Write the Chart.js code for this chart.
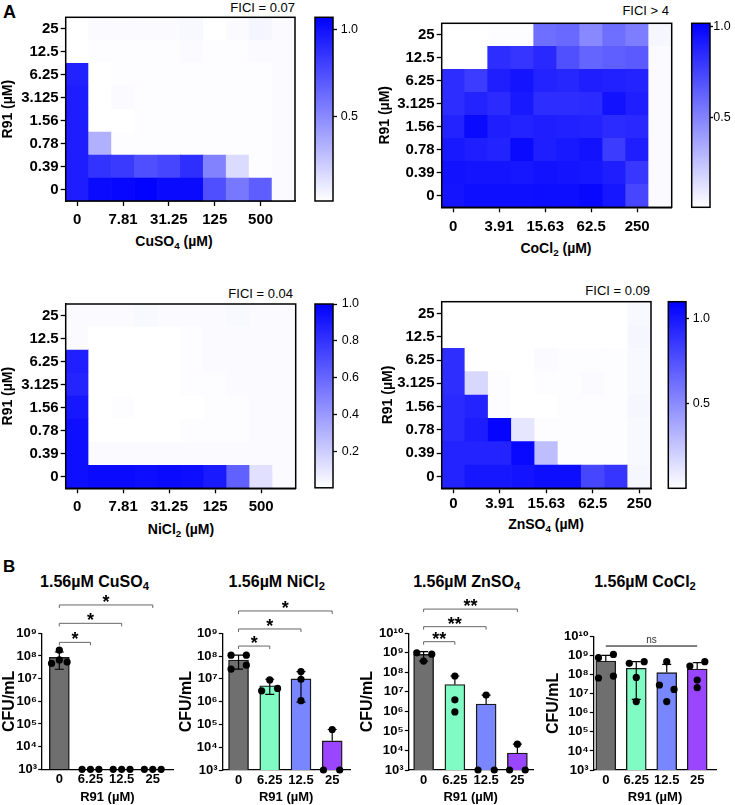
<!DOCTYPE html>
<html><head><meta charset="utf-8">
<script src="https://cdn.jsdelivr.net/npm/chart.js@4.4.1/dist/chart.umd.min.js"></script>
<style>
html,body{margin:0;padding:0;background:#fff}
body{position:relative;width:735px;height:805px;overflow:hidden;font-family:'Liberation Sans','DejaVu Sans',Arial,sans-serif;color:#000}
canvas{position:absolute}
.lbl{position:absolute;white-space:nowrap;line-height:1}
.ttl{font-weight:bold;font-size:16px;transform:translateX(-50%)}
.axt{font-weight:bold;font-size:14px;transform:translateX(-50%)}
.fici{font-size:13px}
sub{font-size:0.7em;line-height:0;vertical-align:-0.3em}
</style></head><body>
<div class="lbl" style="left:3px;top:3px;font-size:18px;font-weight:bold">A</div>
<div class="lbl" style="left:3px;top:558px;font-size:17px;font-weight:bold">B</div>
<div class="lbl fici" style="right:440px;top:1px">FICI = 0.07</div>
<div class="lbl fici" style="right:66px;top:4px">FICI &gt; 4</div>
<div class="lbl fici" style="right:442px;top:287px">FICI = 0.04</div>
<div class="lbl fici" style="right:85px;top:284px">FICI = 0.09</div>
<div class="lbl axt" style="left:174px;top:234px">CuSO<sub>4</sub> (µM)</div>
<div class="lbl axt" style="left:556px;top:241px">CoCl<sub>2</sub> (µM)</div>
<div class="lbl axt" style="left:181px;top:522px">NiCl<sub>2</sub> (µM)</div>
<div class="lbl axt" style="left:546px;top:516.5px">ZnSO<sub>4</sub> (µM)</div>
<div class="lbl ttl" style="left:94.5px;top:573.5px">1.56µM CuSO<sub>4</sub></div>
<div class="lbl ttl" style="left:276.7px;top:573.5px">1.56µM NiCl<sub>2</sub></div>
<div class="lbl ttl" style="left:466.7px;top:573.5px">1.56µM ZnSO<sub>4</sub></div>
<div class="lbl ttl" style="left:645px;top:573.5px">1.56µM CoCl<sub>2</sub></div>
<canvas id="h1"></canvas><canvas id="c1"></canvas>
<canvas id="h2"></canvas><canvas id="c2"></canvas>
<canvas id="h3"></canvas><canvas id="c3"></canvas>
<canvas id="h4"></canvas><canvas id="c4"></canvas>
<canvas id="b1"></canvas><canvas id="b2"></canvas><canvas id="b3"></canvas><canvas id="b4"></canvas>
<script>
// ================= DATA =================
// R91 rows, bottom -> top
const r91Rows = ['0', '0.39', '0.78', '1.56', '3.125', '6.25', '12.5', '25'];
// metal concentrations (columns, left -> right)
const cuSO4Conc = ['0', '3.91', '7.81', '15.63', '31.25', '62.5', '125', '250', '500', '1000'];
const coCl2Conc = ['0', '1.95', '3.91', '7.81', '15.63', '31.25', '62.5', '125', '250', '500'];
const niCl2Conc = ['0', '3.91', '7.81', '15.63', '31.25', '62.5', '125', '250', '500', '1000'];
const znSO4Conc = ['0', '1.95', '3.91', '7.81', '15.63', '31.25', '62.5', '125', '250'];

// relative growth, rows listed top (R91 = 25) -> bottom (R91 = 0)
const cuGrowth = [
  [0.01, 0.03, 0.03, 0.03, 0.03, 0.04, 0.00, 0.03, 0.05, 0.03],
  [0.01, 0.02, 0.02, 0.02, 0.02, 0.03, 0.02, 0.02, 0.03, 0.03],
  [0.93, 0.01, 0.02, 0.02, 0.02, 0.02, 0.02, 0.02, 0.02, 0.03],
  [0.95, 0.01, 0.03, 0.02, 0.02, 0.02, 0.02, 0.02, 0.02, 0.03],
  [0.95, 0.01, 0.01, 0.02, 0.02, 0.02, 0.02, 0.02, 0.02, 0.03],
  [0.95, 0.34, 0.02, 0.02, 0.02, 0.02, 0.02, 0.02, 0.02, 0.03],
  [0.95, 0.86, 0.83, 0.74, 0.78, 0.88, 0.53, 0.16, 0.02, 0.03],
  [0.95, 1.03, 1.04, 1.06, 1.03, 1.03, 0.74, 0.57, 0.68, 0.03]
];
const coGrowth = [
  [0.00, 0.00, 0.01, 0.01, 0.58, 0.60, 0.48, 0.58, 0.52, 0.04],
  [0.00, 0.00, 0.84, 0.81, 0.86, 0.70, 0.62, 0.64, 0.66, 0.02],
  [0.84, 0.78, 0.90, 0.94, 0.88, 0.87, 0.90, 0.89, 0.88, 0.02],
  [0.84, 0.88, 0.85, 0.92, 0.84, 0.84, 0.85, 0.95, 0.90, 0.02],
  [0.88, 0.98, 0.90, 0.88, 0.90, 0.89, 0.88, 0.85, 0.86, 0.02],
  [0.92, 0.90, 0.88, 0.98, 0.90, 0.92, 0.95, 0.78, 0.90, 0.02],
  [0.95, 0.94, 0.94, 0.93, 0.95, 0.94, 0.93, 0.90, 0.80, 0.02],
  [0.94, 0.96, 0.96, 0.96, 0.97, 0.97, 0.99, 0.93, 0.74, 0.02]
];
const niGrowth = [
  [0.02, 0.02, 0.02, 0.03, 0.02, 0.02, 0.02, 0.03, 0.02, 0.02],
  [0.02, 0.00, 0.00, 0.00, 0.00, 0.01, 0.02, 0.02, 0.02, 0.02],
  [0.88, 0.00, 0.00, 0.00, 0.00, 0.01, 0.02, 0.02, 0.02, 0.02],
  [0.86, 0.00, 0.00, 0.00, 0.00, 0.01, 0.01, 0.02, 0.02, 0.02],
  [0.91, 0.00, 0.01, 0.00, 0.00, 0.00, 0.01, 0.01, 0.02, 0.02],
  [0.94, 0.00, 0.00, 0.00, 0.00, 0.01, 0.01, 0.01, 0.02, 0.02],
  [0.94, 0.02, 0.02, 0.02, 0.02, 0.02, 0.02, 0.02, 0.02, 0.02],
  [0.94, 0.96, 0.96, 0.95, 0.96, 0.95, 0.90, 0.62, 0.12, 0.02]
];
const znGrowth = [
  [0.00, 0.00, 0.00, 0.00, 0.00, 0.00, 0.00, 0.00, 0.03],
  [0.00, 0.00, 0.00, 0.00, 0.00, 0.00, 0.00, 0.00, 0.04],
  [0.90, 0.00, 0.00, 0.00, 0.02, 0.01, 0.01, 0.01, 0.03],
  [0.90, 0.17, 0.01, 0.00, 0.01, 0.01, 0.02, 0.01, 0.03],
  [0.92, 0.95, 0.01, 0.00, 0.00, 0.01, 0.01, 0.01, 0.04],
  [0.92, 0.98, 1.08, 0.11, 0.01, 0.01, 0.01, 0.01, 0.03],
  [0.95, 0.95, 0.95, 1.06, 0.28, 0.01, 0.01, 0.01, 0.03],
  [0.95, 1.00, 1.00, 1.02, 1.04, 1.04, 0.80, 0.87, 0.04]
];
// colour-scale ranges [min, max] and tick values
const cuRange = [0.01, 1.07], coRange = [0.004, 1.02], niRange = [0.004, 1.0], znRange = [0.002, 1.10];
const cuCbarTicks = [0.5, 1.0], coCbarTicks = [0.5, 1.0], niCbarTicks = [0.2, 0.4, 0.6, 0.8, 1.0], znCbarTicks = [0.5, 1.0];

// panel B
const r91Doses = ['0', '6.25', '12.5', '25'];
const cfuTicks9 = [1e3, 1e4, 1e5, 1e6, 1e7, 1e8, 1e9];
const cfuTickLabels9 = ['10³', '10⁴', '10⁵', '10⁶', '10⁷', '10⁸', '10⁹'];
const cfuTicks10 = [1e3, 1e4, 1e5, 1e6, 1e7, 1e8, 1e9, 1e10];
const cfuTickLabels10 = ['10³', '10⁴', '10⁵', '10⁶', '10⁷', '10⁸', '10⁹', '10¹⁰'];

const cuMean = [8.7e7, 1e3, 1e3, 1e3];
const cuErrLo = [2.6e7, null, null, null];
const cuErrHi = [1.5e8, null, null, null];
const cuReps = [[1.8e8, 4.7e7, 6.7e7, 5.4e7], [1e3, 1e3, 1e3], [1e3, 1e3, 1e3], [1e3, 1e3, 1e3]];

const niMean = [6.7e7, 5.0e6, 1.0e7, 1.9e4];
const niErrLo = [2.7e7, 2.1e6, 9.5e5, null];
const niErrHi = [1.1e8, 9.6e6, 2.1e7, 6.0e4];
const niReps = [[1.1e8, 1.1e8, 2.7e7, 4.0e7], [9.0e6, 3.0e6, 3.8e6], [2.1e7, 9.6e6, 1.1e6], [6.0e4, 1e3, 1e3]];

const znMean = [8.4e8, 2.4e7, 2.4e6, 7.4e3];
const znErrLo = [3.8e8, null, null, null];
const znErrHi = [1.15e9, 6.5e7, 6.9e6, 2.1e4];
const znReps = [[1.0e9, 8.5e8, 3.8e8], [6.5e7, 3.9e6, 9.4e5], [6.9e6, 1e3, 1e3], [2.1e4, 1e3, 1e3]];

const coMean = [5.3e8, 2.2e8, 1.3e8, 2.0e8];
const coErrLo = [null, 5.1e6, null, null];
const coErrHi = [1.05e9, 4.9e8, 3.5e8, 4.3e8];
const coReps = [[7.9e8, 1.17e9, 6.8e7, 8.6e7], [4.0e8, 4.9e8, 7.3e7, 3.9e6], [4.9e8, 2.9e7, 1.7e7, 3.9e6], [2.9e8, 4.9e8, 5.3e7, 2.1e7]];

// significance annotations: [group a, group b, label]
const cuSig = [[0, 1, '*'], [0, 2, '*'], [0, 3, '*']];
const niSig = [[0, 1, '*'], [0, 2, '*'], [0, 3, '*']];
const znSig = [[0, 1, '**'], [0, 2, '**'], [0, 3, '**']];
const coSig = [[0, 3, 'ns']];

// ================= STYLE / LAYOUT =================
const groupColors = ['#6f6f6f', '#80fbc3', '#7886ff', '#9a46ff'];
// horizontal jitter of replicate dots (fraction of category spacing)
const cuJit = [[0, -0.25, 0, 0.25], [-0.27, 0, 0.27], [-0.27, 0, 0.27], [-0.27, 0, 0.27]];
const niJit = [[-0.24, 0.25, -0.24, 0.25], [0, -0.26, 0.25], [0, 0, 0], [0, -0.28, 0.24]];
const znJit = [[-0.22, 0.26, 0], [0, 0, 0], [0, -0.26, 0.26], [0, -0.25, 0.25]];
const coJit = [[-0.24, 0.25, -0.24, 0.25], [-0.23, 0.26, 0, 0], [0, -0.24, 0.24, 0], [-0.24, 0.25, 0, 0]];
// bracket heights (log10 units)
const cuSigLevel = [8.60, 9.44, 10.25], niSigLevel = [8.44, 9.19, 9.98], znSigLevel = [9.57, 10.34, 11.24], coSigLevel = [9.51];

const L = {
  h1: {canvas: {l: 0, t: 0, w: 300, h: 255}, area: {L: 65.7, T: 17.3, R: 295, B: 201}, xPad: 5.0},
  h2: {canvas: {l: 377, t: 0, w: 300, h: 262}, area: {L: 441.7, T: 23.3, R: 671.7, B: 207.3}, xPad: 5.7},
  h3: {canvas: {l: 0, t: 290, w: 300, h: 253}, area: {L: 65.7, T: 304, R: 295.7, B: 488.3}, xPad: 4.4},
  h4: {canvas: {l: 380, t: 290, w: 277, h: 248}, area: {L: 441.7, T: 301.7, R: 651, B: 488.3}, xPad: 1.7},
  c1: {canvas: {l: 310, t: 0, w: 60, h: 220}, area: {L: 315, T: 17.3, R: 333, B: 201}, tick: 4, pad: 3.7},
  c2: {canvas: {l: 686, t: 0, w: 49, h: 225}, area: {L: 691.7, T: 23.3, R: 710, B: 207.3}, tick: 3, pad: 0.3},
  c3: {canvas: {l: 310, t: 290, w: 60, h: 210}, area: {L: 315, T: 304, R: 333, B: 488.3}, tick: 4, pad: 4.7},
  c4: {canvas: {l: 663, t: 290, w: 60, h: 210}, area: {L: 668.3, T: 301.7, R: 686, B: 488.3}, tick: 3, pad: 3.7},
  b1: {canvas: {l: 0, t: 595, w: 180, h: 210}, area: {L: 41.7, T: 633.3, R: 173, B: 769.3}, xmin: -0.566, xmax: 3.65, yTitlePad: 0.4},
  b2: {canvas: {l: 177, t: 595, w: 179, h: 210}, area: {L: 222.3, T: 633.3, R: 350, B: 770}, xmin: -0.52, xmax: 3.57, yTitlePad: 0.1},
  b3: {canvas: {l: 358, t: 595, w: 180, h: 210}, area: {L: 408.3, T: 633.3, R: 533, B: 770}, xmin: -0.49, xmax: 3.5, yTitlePad: 0.4},
  b4: {canvas: {l: 540, t: 595, w: 195, h: 210}, area: {L: 593.3, T: 636.7, R: 716.7, B: 770}, xmin: -0.41, xmax: 3.64, yTitlePad: 3.7}
};

Chart.defaults.font.family = "'Liberation Sans', 'DejaVu Sans', Arial, sans-serif";
Chart.defaults.color = '#000';
const bold = s => ({size: s, weight: 'bold'});

function place(id, c) {
  const el = document.getElementById(id);
  el.width = c.w; el.height = c.h;
  Object.assign(el.style, {left: c.l + 'px', top: c.t + 'px', width: c.w + 'px', height: c.h + 'px'});
  return el;
}
function heatColor(v, range) {
  const t = Math.max(0, Math.min(1, (v - range[0]) / (range[1] - range[0])));
  const c = Math.round(255 * (1 - t));
  return `rgb(${c},${c},255)`;
}
const framePlugin = {
  id: 'frame',
  afterDraw(chart) {
    const {ctx, chartArea: a} = chart;
    ctx.save(); ctx.strokeStyle = '#000'; ctx.lineWidth = 1.5;
    ctx.strokeRect(a.left, a.top, a.right - a.left, a.bottom - a.top);
    ctx.restore();
  }
};
const base = {animation: false, responsive: false, events: [], devicePixelRatio: 1};

function drawHeatmap(id, cols, grid, range, lay) {
  const c = lay.canvas, a = lay.area;
  const rows = grid.slice().reverse();
  const datasets = rows.map(row => ({
    data: row.map(() => 1),
    backgroundColor: row.map(v => heatColor(v, range)),
    borderWidth: 0, barPercentage: 1, categoryPercentage: 1
  }));
  new Chart(place(id, c), {
    type: 'bar',
    data: {labels: cols, datasets},
    plugins: [framePlugin],
    options: Object.assign({}, base, {
      layout: {padding: {left: 0, top: a.T - c.t, right: c.l + c.w - a.R, bottom: 0}},
      plugins: {legend: {display: false}, tooltip: {enabled: false}},
      scales: {
        x: {
          stacked: true,
          grid: {drawOnChartArea: false, offset: false, tickLength: 5, tickWidth: 1.3, tickColor: '#000'},
          border: {color: '#000', width: 1.5},
          afterBuildTicks: s => { s.ticks = s.ticks.filter(t => t.value % 2 === 0); },
          ticks: {autoSkip: false, maxRotation: 0, padding: lay.xPad, font: bold(15), color: '#000'},
          afterFit: s => { s.height = c.t + c.h - a.B; }
        },
        y: {
          stacked: true, min: 0, max: rows.length,
          grid: {drawOnChartArea: false, tickLength: 5, tickWidth: 1.3, tickColor: '#000'},
          border: {color: '#000', width: 1.5},
          afterBuildTicks: s => { s.ticks = r91Rows.map((_, i) => ({value: i + 0.5})); },
          ticks: {autoSkip: false, padding: 2, font: bold(15), color: '#000', callback: v => r91Rows[Math.floor(v)]},
          title: {display: true, text: 'R91 (µM)', font: bold(14), color: '#000', padding: {top: 0, bottom: 0}},
          afterFit: s => { s.width = a.L - c.l; }
        }
      }
    })
  });
}

function drawColorbar(id, range, tickVals, lay) {
  const c = lay.canvas, a = lay.area;
  new Chart(place(id, c), {
    type: 'bar',
    data: {labels: [''], datasets: [{
      data: [[range[0], range[1]]],
      backgroundColor: ctx => {
        const ar = ctx.chart.chartArea;
        if (!ar) return '#fff';
        const g = ctx.chart.ctx.createLinearGradient(0, ar.bottom, 0, ar.top);
        g.addColorStop(0, heatColor(range[0], range));
        g.addColorStop(1, heatColor(range[1], range));
        return g;
      },
      borderWidth: 0, barPercentage: 1, categoryPercentage: 1
    }]},
    plugins: [framePlugin],
    options: Object.assign({}, base, {
      layout: {padding: {left: a.L - c.l, top: a.T - c.t, right: 0, bottom: c.t + c.h - a.B}},
      plugins: {legend: {display: false}, tooltip: {enabled: false}},
      scales: {
        x: {display: false},
        y: {
          position: 'right', min: range[0], max: range[1],
          grid: {drawOnChartArea: false, tickLength: lay.tick, tickWidth: 1.3, tickColor: '#000'},
          border: {display: false},
          afterBuildTicks: s => { s.ticks = tickVals.map(v => ({value: v})); },
          ticks: {autoSkip: false, padding: lay.pad, font: {size: 12.5}, color: '#000', callback: v => v.toFixed(1)},
          afterFit: s => { s.width = c.l + c.w - a.R; }
        }
      }
    })
  });
}

function drawCfu(id, lay, d) {
  const c = lay.canvas, a = lay.area;
  const pts = d.reps.flatMap((vals, i) => vals.map((v, j) => ({x: i + d.jit[i][j], y: v})));
  const overlay = {
    id: 'overlay',
    afterDatasetDraw(chart, args) {
      if (args.index !== 0) return;
      const ctx = chart.ctx, xs = chart.scales.x, ys = chart.scales.y;
      ctx.save(); ctx.strokeStyle = '#000'; ctx.lineWidth = 1.2;
      d.hi.forEach((hi, i) => {
        if (hi == null) return;
        const x = xs.getPixelForValue(i);
        const yT = ys.getPixelForValue(hi);
        const lo = d.lo[i];
        const yB = ys.getPixelForValue(lo != null ? lo : d.mean[i]);
        ctx.beginPath();
        ctx.moveTo(x, yB); ctx.lineTo(x, yT);
        ctx.moveTo(x - 4.5, yT); ctx.lineTo(x + 4.5, yT);
        if (lo != null) { ctx.moveTo(x - 4.5, yB); ctx.lineTo(x + 4.5, yB); }
        ctx.stroke();
      });
      ctx.restore();
    },
    afterDraw(chart) {
      const ctx = chart.ctx, xs = chart.scales.x, ys = chart.scales.y;
      ctx.save();
      d.sig.forEach((s, k) => {
        const x1 = xs.getPixelForValue(s[0]), x2 = xs.getPixelForValue(s[1]);
        const y = ys.getPixelForValue(Math.pow(10, d.level[k]));
        const ns = s[2] === 'ns';
        ctx.strokeStyle = ns ? '#000' : '#666'; ctx.lineWidth = 1;
        ctx.beginPath();
        if (ns) { ctx.moveTo(x1, y); ctx.lineTo(x2, y); }
        else { ctx.moveTo(x1, y + 3); ctx.lineTo(x1, y); ctx.lineTo(x2, y); ctx.lineTo(x2, y + 3); }
        ctx.stroke();
        ctx.textAlign = 'center'; ctx.textBaseline = 'alphabetic';
        if (ns) {
          ctx.fillStyle = '#333'; ctx.font = "10px 'Liberation Sans', 'DejaVu Sans', sans-serif";
          ctx.fillText(s[2], (x1 + x2) / 2, y - 3);
        } else {
          ctx.fillStyle = '#000'; ctx.font = "bold 18px 'Liberation Sans', 'DejaVu Sans', sans-serif";
          ctx.fillText(s[2], (x1 + x2) / 2, y + 3);
        }
      });
      ctx.restore();
    }
  };
  new Chart(place(id, c), {
    type: 'bar',
    data: {datasets: [
      {type: 'bar', data: d.mean.map((v, i) => ({x: i, y: v})), backgroundColor: groupColors,
       borderColor: '#1a1a1a', borderWidth: 1.4, barThickness: 20, order: 2},
      {type: 'scatter', data: pts, pointRadius: 3.6, pointBackgroundColor: '#000', pointBorderWidth: 0, order: 1, clip: false}
    ]},
    plugins: [overlay],
    options: Object.assign({}, base, {
      layout: {padding: {left: 0, top: a.T - c.t, right: c.l + c.w - a.R, bottom: 0}},
      plugins: {legend: {display: false}, tooltip: {enabled: false}},
      scales: {
        x: {
          type: 'linear', min: lay.xmin, max: lay.xmax, offset: false,
          grid: {display: true, drawOnChartArea: false, drawTicks: false, offset: false},
          border: {color: '#000', width: 1.3},
          afterBuildTicks: s => { s.ticks = r91Doses.map((_, i) => ({value: i})); },
          ticks: {autoSkip: false, maxRotation: 0, padding: 2.7, font: bold(13), color: '#000', callback: v => r91Doses[v]},
          title: {display: true, text: 'R91 (µM)', font: bold(13), color: '#000', padding: {top: 0, bottom: 0}},
          afterFit: s => { s.height = c.t + c.h - a.B; }
        },
        y: {
          type: 'logarithmic', min: d.ticks[0], max: d.ticks[d.ticks.length - 1],
          grid: {drawOnChartArea: false, tickLength: 3.5, tickWidth: 1.2, tickColor: '#000'},
          border: {color: '#000', width: 1.3},
          afterBuildTicks: s => { s.ticks = d.ticks.map(v => ({value: v})); },
          ticks: {autoSkip: false, padding: 1.2, font: bold(13), color: '#000', callback: (v, i) => d.tickLabels[i]},
          title: {display: true, text: 'CFU/mL', font: bold(16), color: '#000', padding: {top: lay.yTitlePad, bottom: 0}},
          afterFit: s => { s.width = a.L - c.l; }
        }
      }
    })
  });
}

drawHeatmap('h1', cuSO4Conc, cuGrowth, cuRange, L.h1);
drawColorbar('c1', cuRange, cuCbarTicks, L.c1);
drawHeatmap('h2', coCl2Conc, coGrowth, coRange, L.h2);
drawColorbar('c2', coRange, coCbarTicks, L.c2);
drawHeatmap('h3', niCl2Conc, niGrowth, niRange, L.h3);
drawColorbar('c3', niRange, niCbarTicks, L.c3);
drawHeatmap('h4', znSO4Conc, znGrowth, znRange, L.h4);
drawColorbar('c4', znRange, znCbarTicks, L.c4);

drawCfu('b1', L.b1, {mean: cuMean, lo: cuErrLo, hi: cuErrHi, reps: cuReps, jit: cuJit, sig: cuSig, level: cuSigLevel, ticks: cfuTicks9, tickLabels: cfuTickLabels9});
drawCfu('b2', L.b2, {mean: niMean, lo: niErrLo, hi: niErrHi, reps: niReps, jit: niJit, sig: niSig, level: niSigLevel, ticks: cfuTicks9, tickLabels: cfuTickLabels9});
drawCfu('b3', L.b3, {mean: znMean, lo: znErrLo, hi: znErrHi, reps: znReps, jit: znJit, sig: znSig, level: znSigLevel, ticks: cfuTicks10, tickLabels: cfuTickLabels10});
drawCfu('b4', L.b4, {mean: coMean, lo: coErrLo, hi: coErrHi, reps: coReps, jit: coJit, sig: coSig, level: coSigLevel, ticks: cfuTicks10, tickLabels: cfuTickLabels10});
</script>
</body></html>
